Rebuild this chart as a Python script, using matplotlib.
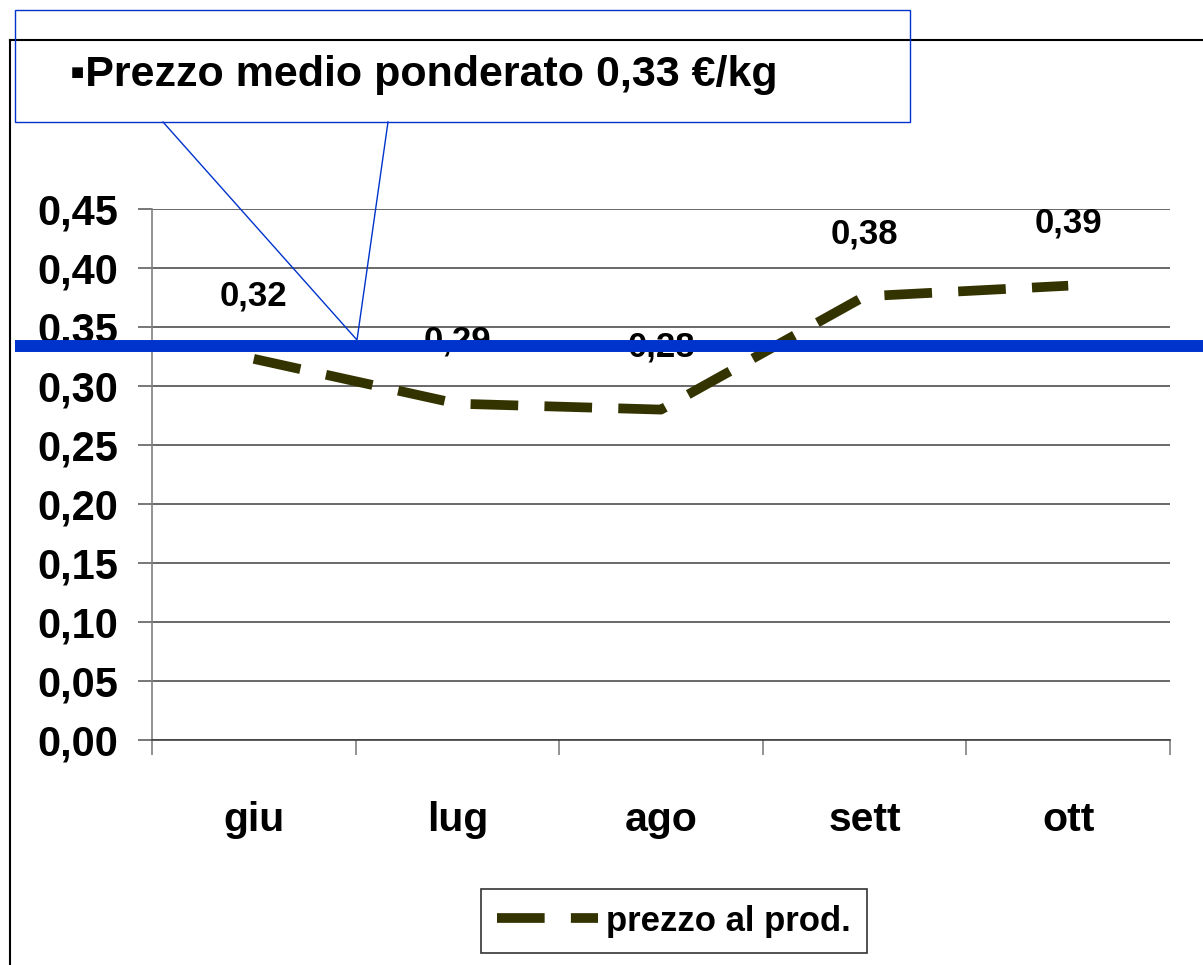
import numpy as np
import matplotlib
matplotlib.use("Agg")
import matplotlib.pyplot as plt
from matplotlib.lines import Line2D
from matplotlib.patches import Rectangle

# data
mesi = ["giu", "lug", "ago", "sett", "ott"]
prezzo = [0.323, 0.285, 0.280, 0.376, 0.385]
etichette = ["0,32", "0,29", "0,28", "0,38", "0,39"]
prezzo_medio_txt = "\u25aaPrezzo medio ponderato 0,33 \u20ac/kg"
serie_nome = "prezzo al prod."

plt.rcParams['font.family'] = ['Liberation Sans Narrow', 'Liberation Sans', 'DejaVu Sans']
plt.rcParams['font.weight'] = 'bold'

W, H = 1203, 965
fig = plt.figure(figsize=(W / 100, H / 100), dpi=100)


def px(x, y):
    return x / W, 1 - y / H


ax = fig.add_axes([152 / W, 1 - 740 / H, (1170 - 152) / W, (740 - 209) / H])
x = np.arange(len(mesi))

line, = ax.plot(x, prezzo, color='#333300', lw=7, solid_capstyle='butt',
                dash_capstyle='butt', label=serie_nome, zorder=3)
line.set_dashes([4.9, 2.7])

for xi, yi, lab in zip(x, prezzo, etichette):
    ax.annotate(lab, (xi, yi), xytext=(0, 45), textcoords='offset points',
                ha='center', va='center', fontsize=25, fontweight='bold')

ax.set_xlim(-0.5, len(mesi) - 0.5)
ax.set_ylim(0, 0.45)
yt = np.arange(0, 0.451, 0.05)
ax.set_yticks(yt)
ax.set_yticklabels([f"{v:.2f}".replace('.', ',') for v in yt], fontsize=30)
ax.set_xticks(x)
ax.set_xticklabels(mesi, fontsize=29.5)
ax.set_xticks(np.arange(-0.5, len(mesi)), minor=True)
ax.tick_params(axis='x', which='major', length=0, pad=44)
ax.tick_params(axis='x', which='minor', length=11, width=1.2, color='#808080')
ax.tick_params(axis='y', length=10, width=1.2, color='#606060', pad=14)

ax.yaxis.grid(True, color='#404040', lw=1.1)
ax.set_axisbelow(True)
for s in ['top', 'right']:
    ax.spines[s].set_visible(False)
ax.spines['left'].set_color('#808080')
ax.spines['bottom'].set_color('#404040')
ax.spines['left'].set_linewidth(1.2)
ax.spines['bottom'].set_linewidth(1.2)

leg = fig.legend(handles=[line], loc='center', bbox_to_anchor=px(674, 921),
                 fontsize=25, frameon=True, fancybox=False, handlelength=2.9,
                 handletextpad=0.25, borderpad=0.45, borderaxespad=0)
leg.get_frame().set_edgecolor('black')
leg.get_frame().set_linewidth(1.2)

# chart area border
fig.add_artist(Line2D([px(10, 0)[0], px(10, 0)[0]], [px(0, 40)[1], 0],
                      color='black', lw=1.5))
fig.add_artist(Line2D([px(10, 0)[0], 1], [px(0, 40)[1], px(0, 40)[1]],
                      color='black', lw=1.5))

# average price line and callout
fig.add_artist(Line2D([px(15, 0)[0], 1], [px(0, 346)[1]] * 2,
                      color='#0033CC', lw=8.6, solid_capstyle='butt', zorder=10))
x0, y0 = px(15, 122)
x1, y1 = px(910, 10)
fig.add_artist(Rectangle((x0, y0), x1 - x0, y1 - y0, transform=fig.transFigure,
                         fill=False, edgecolor='#0033CC', lw=1.0, zorder=11))
pa, pb, pc = px(163, 122), px(357, 340), px(388, 122)
fig.add_artist(Line2D([pa[0], pb[0], pc[0]], [pa[1], pb[1], pc[1]],
                      color='#0033CC', lw=1.0, zorder=11))
fig.text(*px(70, 75), prezzo_medio_txt, fontsize=31, fontweight='bold',
         ha='left', va='center', zorder=12)

fig.savefig("out.png", dpi=100)
